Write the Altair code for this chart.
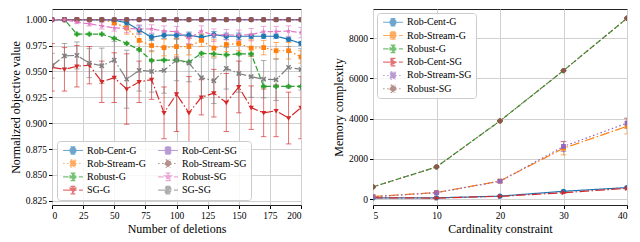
import altair as alt
import pandas as pd

# ---------------- left panel data ----------------
deletions = list(range(0, 201, 10))
left_names = ["Rob-Cent-G", "Rob-Stream-G", "Robust-G", "SG-G",
              "Rob-Cent-SG", "Rob-Stream-SG", "Robust-SG", "SG-SG"]
left_vals = {
    "Rob-Cent-G":   [1.0, 1.0, 1.0, 1.0, 1.0, 0.9995, 0.997, 0.990, 0.983, 0.985, 0.985,
                     0.985, 0.983, 0.9855, 0.984, 0.984, 0.984, 0.984, 0.984, 0.981, 0.977],
    "Rob-Stream-G": [1.0, 1.0, 1.0, 1.0, 1.0, 0.997, 0.992, 0.980, 0.975, 0.973, 0.974,
                     0.974, 0.980, 0.9725, 0.976, 0.977, 0.9725, 0.973, 0.970, 0.970, 0.964],
    "Robust-G":     [1.0, 1.0, 0.986, 0.986, 0.986, 0.982, 0.977, 0.971, 0.9605, 0.961, 0.961,
                     0.959, 0.9675, 0.967, 0.966, 0.967, 0.967, 0.9355, 0.9355, 0.9355, 0.9355],
    "SG-G":         [0.954, 0.952, 0.955, 0.956, 0.940, 0.944, 0.933, 0.940, 0.942, 0.910, 0.928,
                     0.910, 0.925, 0.929, 0.920, 0.935, 0.915, 0.910, 0.912, 0.905, 0.915],
    "Rob-Cent-SG":  [1.0] * 21,
    "Rob-Stream-SG": [1.0] * 21,
    "Robust-SG":    [1.0, 1.0, 0.9975, 0.996, 0.994, 0.992, 0.9915, 0.991, 0.991, 0.989, 0.9885,
                     0.982, 0.989, 0.985, 0.9855, 0.985, 0.9855, 0.9885, 0.9885, 0.989, 0.9875],
    "SG-SG":        [0.9555, 0.965, 0.9655, 0.958, 0.9555, 0.961, 0.9425, 0.951, 0.950, 0.951, 0.961,
                     0.958, 0.944, 0.941, 0.953, 0.948, 0.945, 0.9425, 0.942, 0.954, 0.952],
}
left_errs = {
    "Rob-Cent-G":   [0, 0, 0, 0, 0, 0.001, 0.003, 0.004, 0.003, 0.003, 0.003,
                     0.003, 0.003, 0.003, 0.003, 0.003, 0.002, 0.002, 0.002, 0.002, 0.002],
    "Rob-Stream-G": [0, 0, 0, 0, 0, 0.002, 0.006, 0.008, 0.006, 0.008, 0.008,
                     0.008, 0.006, 0.008, 0.007, 0.007, 0.008, 0.007, 0.008, 0.008, 0.006],
    "Robust-G":     [0, 0, 0.001, 0.001, 0.001, 0.001, 0.001, 0.001, 0.001, 0.001, 0.001,
                     0.001, 0.001, 0.001, 0.001, 0.001, 0.001, 0.001, 0.001, 0.001, 0.001],
    "SG-G":         [0.023, 0.021, 0.020, 0.018, 0.020, 0.024, 0.034, 0.020, 0.019, 0.025, 0.036,
                     0.035, 0.017, 0.023, 0.028, 0.025, 0.021, 0.023, 0.025, 0.025, 0.030],
    "Rob-Cent-SG":  [0] * 21,
    "Rob-Stream-SG": [0] * 21,
    "Robust-SG":    [0, 0, 0.001, 0.002, 0.003, 0.003, 0.004, 0.004, 0.004, 0.005, 0.005,
                     0.005, 0.005, 0.006, 0.005, 0.005, 0.006, 0.005, 0.005, 0.005, 0.005],
    "SG-SG":        [0.012, 0.012, 0.013, 0.014, 0.017, 0.018, 0.028, 0.020, 0.020, 0.022, 0.020,
                     0.018, 0.020, 0.022, 0.020, 0.018, 0.020, 0.018, 0.020, 0.020, 0.020],
}

# ---------------- right panel data ----------------
k_labels = [5, 10, 20, 30, 40]
right_names = ["Rob-Cent-G", "Rob-Stream-G", "Robust-G",
               "Rob-Cent-SG", "Rob-Stream-SG", "Robust-SG"]
right_vals = {
    "Rob-Cent-G":    [60, 65, 150, 392, 575],
    "Rob-Stream-G":  [130, 330, 900, 2530, 3620],
    "Robust-G":      [610, 1600, 3890, 6390, 8990],
    "Rob-Cent-SG":   [70, 55, 140, 320, 540],
    "Rob-Stream-SG": [120, 320, 890, 2620, 3780],
    "Robust-SG":     [610, 1600, 3890, 6390, 8990],
}
right_errs = {
    "Rob-Cent-G":    [10, 10, 20, 50, 60],
    "Rob-Stream-G":  [20, 30, 60, 330, 380],
    "Robust-G":      [5, 5, 5, 5, 5],
    "Rob-Cent-SG":   [10, 10, 15, 30, 40],
    "Rob-Stream-SG": [20, 30, 60, 250, 250],
    "Robust-SG":     [5, 5, 5, 5, 5],
}

# ---------------- styles ----------------
SOLID = [1, 0]
DOT = [1.5, 2.5]
DASH = [5.5, 2.4]
DASHDOT = [9.6, 2.4, 1.5, 2.4]

MARK = {
    "circle": "M1,0A1,1,0,1,1,-1,0A1,1,0,1,1,1,0Z",
    "square": "M-0.9,-0.9H0.9V0.9H-0.9Z",
    "cross": "M-0.35,-1H0.35V-0.35H1V0.35H0.35V1H-0.35V0.35H-1V-0.35H-0.35Z",
    "tdown": "M-1,-0.7L1,-0.7L0,1Z",
    "tright": "M-0.7,-1L1,0L-0.7,1Z",
    "star": "M0,-1.1L0.25,-0.34L1.05,-0.34L0.4,0.13L0.65,0.9L0,0.42L-0.65,0.9L-0.4,0.13L-1.05,-0.34L-0.25,-0.34Z",
    "x": "M-1,-0.6L-0.6,-1L0,-0.4L0.6,-1L1,-0.6L0.4,0L1,0.6L0.6,1L0,0.4L-0.6,1L-1,0.6L-0.4,0Z",
}
# legend glyph: line, error bar with caps, then the marker (same path units)
LEG_LINE = "M-3.3,0H3.3M0,-1.25V1.25M-0.8,-1.25H0.8M-0.8,1.25H0.8"

left_style = {
    "Rob-Cent-G":    ("#1f77b4", SOLID, "circle"),
    "Rob-Stream-G":  ("#ff7f0e", DOT, "square"),
    "Robust-G":      ("#2ca02c", DASH, "cross"),
    "SG-G":          ("#d62728", DASHDOT, "tdown"),
    "Rob-Cent-SG":   ("#9467bd", SOLID, "square"),
    "Rob-Stream-SG": ("#8c564b", DOT, "circle"),
    "Robust-SG":     ("#e377c2", DASH, "star"),
    "SG-SG":         ("#7f7f7f", DASHDOT, "x"),
}
right_style = {
    "Rob-Cent-G":    ("#1f77b4", SOLID, "circle"),
    "Rob-Stream-G":  ("#ff7f0e", DASHDOT, "square"),
    "Robust-G":      ("#2ca02c", DASH, "cross"),
    "Rob-Cent-SG":   ("#d62728", DASHDOT, "tright"),
    "Rob-Stream-SG": ("#9467bd", DOT, "square"),
    "Robust-SG":     ("#8c564b", DOT, "circle"),
}

rows = []
for n in left_names:
    for d, v, e in zip(deletions, left_vals[n], left_errs[n]):
        rows.append({"d": d, "sl": n, "value": v, "lo": v - e, "hi": v + e})
df_left = pd.DataFrame(rows)

rows = []
for n in right_names:
    for i, (v, e) in enumerate(zip(right_vals[n], right_errs[n])):
        rows.append({"idx": i, "sr": n, "value": v, "lo": v - e, "hi": v + e})
df_right = pd.DataFrame(rows)

FONT = "Liberation Serif"


def panel(df, xfield, sfield, order, style, xscale, xaxis, yscale, yaxis, legend):
    colors = [style[n][0] for n in order]
    dashes = [style[n][1] for n in order]
    glyphs = [LEG_LINE + MARK[style[n][2]] for n in order]
    color = alt.Color(f"{sfield}:N", scale=alt.Scale(domain=order, range=colors), legend=legend)
    stroke = alt.Stroke(f"{sfield}:N", scale=alt.Scale(domain=order, range=colors), legend=legend)
    dash = alt.StrokeDash(f"{sfield}:N", scale=alt.Scale(domain=order, range=dashes), legend=legend)
    shape = alt.Shape(f"{sfield}:N", scale=alt.Scale(domain=order, range=glyphs), legend=legend)
    x = alt.X(f"{xfield}:Q", scale=xscale, axis=xaxis)
    y = alt.Y("value:Q", scale=yscale, axis=yaxis)
    ylo = alt.Y("lo:Q", scale=yscale, axis=yaxis)
    yhi = alt.Y("hi:Q", scale=yscale, axis=yaxis)
    base = alt.Chart(df)
    layers = [
        base.mark_rule(strokeWidth=1, opacity=0.65, clip=True).encode(
            x=x, y=ylo, y2="hi:Q", color=color),
        base.mark_point(shape="stroke", size=30, filled=False, strokeWidth=1,
                        opacity=0.65, clip=True).encode(x=x, y=ylo, color=color),
        base.mark_point(shape="stroke", size=30, filled=False, strokeWidth=1,
                        opacity=0.65, clip=True).encode(x=x, y=yhi, color=color),
        base.mark_line(strokeWidth=1.2, clip=True).encode(
            x=x, y=y, color=color, strokeDash=dash),
    ]
    for n in order:
        c, _, m = style[n]
        layers.append(
            base.transform_filter(alt.datum[sfield] == n)
            .mark_point(shape=MARK[m], filled=True, size=28, opacity=1, color=c, clip=True)
            .encode(x=x, y=y)
        )
    # legend-only layer (no rows; the glyphs come from the scales' domains)
    layers.append(
        base.transform_filter("false")
        .mark_point(filled=True, size=36, opacity=1, strokeWidth=1.1)
        .encode(x=x, y=y, color=color, stroke=stroke, strokeDash=dash, shape=shape)
    )
    return alt.layer(*layers)


leg_common = dict(title=None, labelFont=FONT, labelFontSize=10, labelColor="black",
                  fillColor="rgba(255,255,255,0.85)", strokeColor="#cccccc",
                  cornerRadius=3, padding=4, symbolSize=36, symbolStrokeWidth=1.1,
                  symbolOffset=7, labelOffset=9, labelLimit=200,
                  clipHeight=10.5, rowPadding=2.3)

left = panel(
    df_left, "d", "sl", left_names, left_style,
    alt.Scale(domain=[0, 200], nice=False, zero=False),
    alt.Axis(title="Number of deletions", values=list(range(0, 201, 25))),
    alt.Scale(domain=[0.821, 1.0103], nice=False, zero=False),
    alt.Axis(title="Normalized objective value",
             values=[0.825, 0.85, 0.875, 0.9, 0.925, 0.95, 0.975, 1.0], format=".3f"),
    alt.Legend(orient="bottom-left", offset=5, columns=2, columnPadding=10, **leg_common),
).properties(width=249, height=196)

label_expr = "[" + ",".join(f"'{k}'" for k in k_labels) + "][datum.value]"
right = panel(
    df_right, "idx", "sr", right_names, right_style,
    alt.Scale(domain=[0, len(k_labels) - 1], nice=False, zero=False),
    alt.Axis(title="Cardinality constraint", values=list(range(len(k_labels))),
             labelExpr=label_expr),
    alt.Scale(domain=[-290, 9450], nice=False, zero=False),
    alt.Axis(title="Memory complexity", values=[0, 2000, 4000, 6000, 8000], format="d"),
    alt.Legend(orient="top-left", offset=4, **leg_common),
).properties(width=254, height=196)

chart = alt.hconcat(left, right, spacing=30).resolve_scale(
    color="independent", shape="independent", strokeDash="independent", stroke="independent"
).properties(padding={"left": 0, "top": 0, "right": 0, "bottom": 0}).configure_axis(
    labelFont=FONT, titleFont=FONT, labelFontSize=9.5, titleFontSize=12,
    titleFontWeight="normal", labelColor="black", titleColor="black",
    tickColor="black", tickSize=3.5, labelPadding=2, titlePadding=3,
    domain=False, gridColor="#d0d0d0", gridWidth=1,
).configure_view(stroke="#222222", strokeWidth=1)

chart.save("out.html", embed_options={"renderer": "svg", "actions": False})
